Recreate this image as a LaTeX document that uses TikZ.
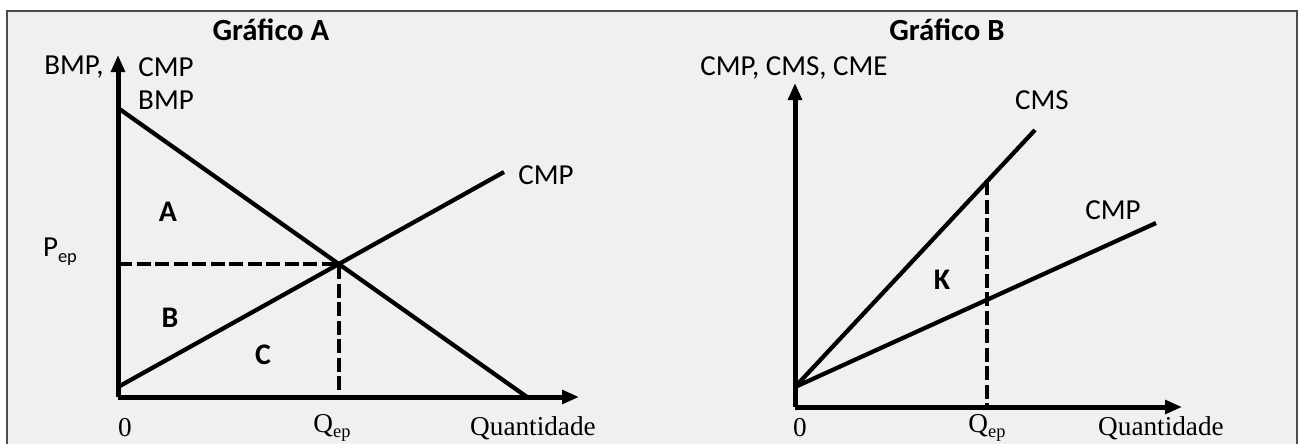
\documentclass[tikz,border=0pt]{standalone}
\usepackage{fontspec}
\setmainfont{Carlito}
\newfontfamily\qfont{Liberation Serif}
\usetikzlibrary{arrows.meta,calc}

\newcommand{\subep}[1]{#1\raisebox{-0.45ex}{\fontsize{10.5}{12}\selectfont ep}}

\begin{document}
\begin{tikzpicture}[x=0.2mm, y=-0.2mm,
  ax/.style={-{Triangle[length=3.4mm, width=2.7mm]}, line width=1mm},
  cv/.style={line width=0.85mm},
  dsh/.style={line width=0.8mm, dash pattern=on 2.8mm off 0.9mm},
  lb/.style={font=\fontsize{16.5}{19}\selectfont, inner sep=0pt},
  qlb/.style={font=\qfont\fontsize{15.5}{18}\selectfont, inner sep=0pt},
  ttl/.style={font=\fontsize{17.5}{20}\selectfont\bfseries, inner sep=0pt},
  reg/.style={font=\fontsize{17}{19}\selectfont\bfseries, inner sep=0pt}]

\useasboundingbox (0,0) rectangle (1300,443);
\fill[white] (0,0) rectangle (1300,443);
\draw[line width=0.4mm, draw=black!70, fill=black!6] (7,11) rectangle (1297,470);

% ---- Grafico A -----------------------------------------------------------
\node[ttl] (titA) at (271,30) {Gráfico A};
\coordinate (oA) at (118,397);
\coordinate (yA) at (118,55);
\coordinate (xA) at (579,397);
\coordinate (bmp0) at (118,108);
\coordinate (bmp1) at (527,397);
\coordinate (cmp0) at (118,387);
\coordinate (cmp1) at (504,172);
\coordinate (eqA) at (intersection of bmp0--bmp1 and cmp0--cmp1);

\draw[ax] (oA) -- (yA);
\draw[ax] (oA) -- (xA);
\draw[cv] (bmp0) -- (bmp1);
\draw[cv] (cmp0) -- (cmp1);
\draw[dsh] (oA |- eqA) -- (eqA) -- (eqA |- oA);

\node[lb] (yAl) at (74,67) {BMP,};
\node[lb] (yAr) at (166,67) {CMP};
\node[lb] (bmpl) at (166,100) {BMP};
\node[lb] (cmpl) at (546,175) {CMP};
\node[lb] (pep) at (60,252) {\subep{P}};
\node[reg] (rA) at (168,212) {A};
\node[reg] (rB) at (170,318) {B};
\node[reg] (rC) at (263,355) {C};
\node[qlb] (zA) at (125,428) {0};
\node[qlb] (qA) at (332,428) {\subep{Q}};
\node[qlb] (quA) at (533,428) {Quantidade};

% ---- Grafico B -----------------------------------------------------------
\node[ttl] (titB) at (947,30) {Gráfico B};
\coordinate (oB) at (795,407);
\coordinate (yB) at (795,83);
\coordinate (xB) at (1182,407);
\coordinate (cms0) at (795,387);
\coordinate (cms1) at (1035,130);
\coordinate (cmpB0) at (795,387);
\coordinate (cmpB1) at (1156,223);
\coordinate (kq) at ($(cms0)!0.8!(cms1)$);

\draw[ax] (oB) -- (yB);
\draw[ax] (oB) -- (xB);
\draw[cv] (cms0) -- (cms1);
\draw[cv] (cmpB0) -- (cmpB1);
\draw[dsh] (kq) -- (kq |- oB);

\node[lb] (yBl) at (794,68) {CMP, CMS, CME};
\node[lb] (cmsl) at (1042,100) {CMS};
\node[lb] (cmpBl) at (1113,210) {CMP};
\node[reg] (rK) at (942,280) {K};
\node[qlb] (zB) at (800,428) {0};
\node[qlb] (qB) at (987,428) {\subep{Q}};
\node[qlb] (quB) at (1161,428) {Quantidade};

\end{tikzpicture}
\end{document}
